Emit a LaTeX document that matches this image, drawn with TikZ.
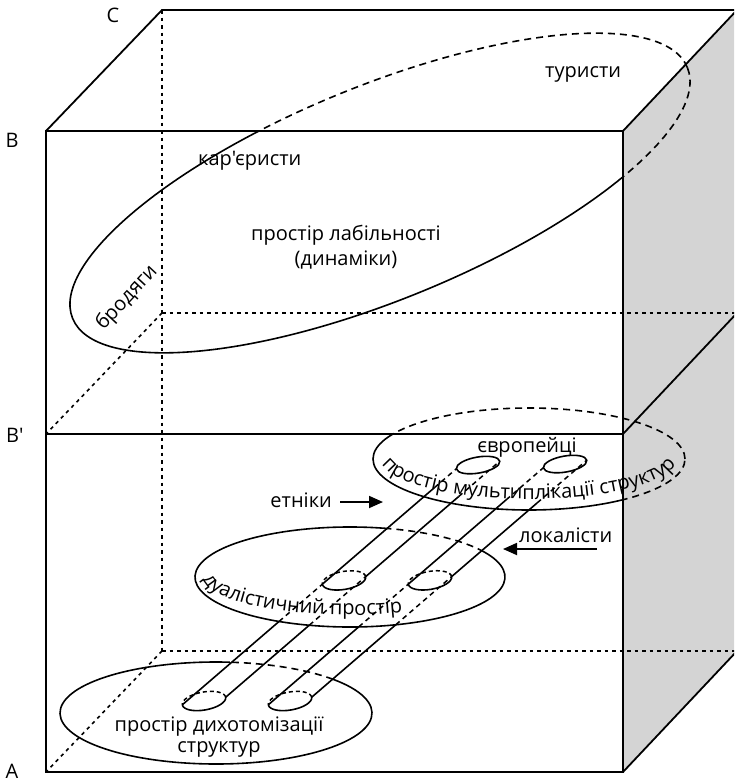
\documentclass[tikz,border=0pt]{standalone}
\usepackage{fontspec}
\setmainfont{Open Sans}[Ligatures=TeXOff]
\usetikzlibrary{calc,arrows.meta,decorations.text}
\definecolor{sideface}{RGB}{212,212,212}
\tikzset{
  edge/.style={line width=1.8pt},
  hiddenedge/.style={line width=1.6pt, dash pattern=on 3.5pt off 4pt},
  solidcurve/.style={line width=1.6pt},
  dashcurve/.style={line width=1.6pt, dash pattern=on 7pt off 5pt},
  tubeline/.style={line width=1.6pt},
  tubehidden/.style={line width=1.5pt, dash pattern=on 5pt off 4pt},
  capdash/.style={line width=1.5pt, dash pattern=on 4pt off 3pt},
  lbl/.style={font=\fontsize{20}{25}\selectfont, inner sep=0pt},
  pointer/.style={line width=1.8pt, -{Triangle[length=14pt,width=12pt]}},
}
% one edge of a tube: #1 lower end, #2 upper end,
% #3 where it passes under the middle disk, #4 middle opening, #5 where it goes under the top disk
\newcommand{\tubeedge}[5]{%
  \draw[tubeline]   (#1) -- ($(#1)!#3!(#2)$);
  \draw[tubehidden] ($(#1)!#3!(#2)$) -- ($(#1)!#4!(#2)$);
  \draw[tubeline]   ($(#1)!#4!(#2)$) -- ($(#1)!#5!(#2)$);
  \draw[tubehidden] ($(#1)!#5!(#2)$) -- (#2);
}
% opening of a tube in a disk: far half hidden, near half visible
\newcommand{\tubeopening}[1]{%
  \draw[capdash, shift={(#1)}, rotate=10] (22,0) arc[start angle=0, end angle=180, x radius=22, y radius=9];
  \draw[solidcurve, shift={(#1)}, rotate=10] (-22,0) arc[start angle=180, end angle=360, x radius=22, y radius=9];
}
\begin{document}
\begin{tikzpicture}[x=1pt,y=1pt]
\useasboundingbox (0,0) rectangle (734,-782);
\clip (0,0) rectangle (734,-782);

% ---- box corners
\coordinate (B)   at (46,-131);
\coordinate (Bp)  at (46,-434);
\coordinate (A)   at (46,-772);
\coordinate (FR)  at (623,-131);
\coordinate (FRm) at (623,-434);
\coordinate (FRb) at (623,-772);
\coordinate (C)   at ($(B)+(116,121)$);
\coordinate (Cm)  at ($(Bp)+(116,121)$);
\coordinate (Cb)  at ($(A)+(116,121)$);
\coordinate (RT)  at ($(FR)+(114,121)$);
\coordinate (RM)  at ($(FRm)+(114,121)$);
\coordinate (RB)  at ($(FRb)+(114,121)$);

% ---- right side face
\fill[sideface] (FR) -- (RT) -- (RB) -- (FRb) -- cycle;

% ---- hidden edges
\draw[hiddenedge] (C) -- (Cb);
\draw[hiddenedge] (Cm) -- (Bp);
\draw[hiddenedge] (Cb) -- (A);
\draw[hiddenedge] (Cm) -- ++(620,0);
\draw[hiddenedge] (Cb) -- ++(620,0);

% ---- visible edges
\draw[edge] (B) rectangle (FRb);
\draw[edge] (Bp) -- (FRm);
\draw[edge] (B) -- (C) -- ++(620,0);
\draw[edge] (FR) -- (RT);
\draw[edge] (FRm) -- (RM);
\draw[edge] (FRb) -- (RB);

% ---- space of lability (large tilted ellipse)
\begin{scope}
  \clip (B) rectangle (FRb);
  \draw[solidcurve, rotate around={22.2:(380,-193)}] (380,-193) ellipse [x radius=332, y radius=107];
\end{scope}
\begin{scope}
  \clip (0,0) -- (734,0) -- (734,-782) -- (623,-782) -- (623,-131) -- (0,-131) -- cycle;
  \draw[dashcurve, rotate around={22.2:(380,-193)}] (380,-193) ellipse [x radius=332, y radius=107];
\end{scope}

% ---- top disk: multiplication of structures
\begin{scope}
  \clip (Bp) rectangle (FRb);
  \draw[solidcurve] (529,-459) ellipse [x radius=156, y radius=51];
\end{scope}
\begin{scope}
  \clip (0,0) -- (734,0) -- (734,-782) -- (623,-782) -- (623,-434) -- (0,-434) -- cycle;
  \draw[dashcurve] (529,-459) ellipse [x radius=156, y radius=51];
\end{scope}

% ---- middle disk: dualistic space
\draw[solidcurve] (350,-577) ++(77:155 and 50) arc[start angle=77, end angle=390.2, x radius=155, y radius=50];
\draw[dashcurve]  (350,-577) ++(30.2:155 and 50) arc[start angle=30.2, end angle=77, x radius=155, y radius=50];

% ---- bottom disk: dichotomisation of structures
\draw[solidcurve] (216,-713) ++(84.9:156 and 51) arc[start angle=84.9, end angle=401.4, x radius=156, y radius=51];
\draw[dashcurve]  (216,-713) ++(41.4:156 and 51) arc[start angle=41.4, end angle=84.9, x radius=156, y radius=51];

% ---- tubes
\coordinate (b1) at (204,-701);
\coordinate (t1) at (478,-465);
\coordinate (b2) at (290,-701);
\coordinate (t2) at (565,-464);
\coordinate (m1) at ($(b1)!0.511!(t1)$);
\coordinate (m2) at ($(b2)!0.509!(t2)$);
\coordinate (l1a) at ($(b1)+(-21.7,-3.8)$);
\coordinate (l1b) at ($(t1)+(-21.7,-3.8)$);
\coordinate (r1a) at ($(b1)+(21.7,3.8)$);
\coordinate (r1b) at ($(t1)+(21.7,3.8)$);
\coordinate (l2a) at ($(b2)+(-21.7,-3.8)$);
\coordinate (l2b) at ($(t2)+(-21.7,-3.8)$);
\coordinate (r2a) at ($(b2)+(21.7,3.8)$);
\coordinate (r2b) at ($(t2)+(21.7,3.8)$);

\tubeedge{l1a}{l1b}{0.353}{0.511}{0.92}
\tubeedge{r1a}{r1b}{0.305}{0.511}{0.85}
\tubeedge{l2a}{l2b}{0.329}{0.509}{0.865}
\tubeedge{r2a}{r2b}{0.306}{0.509}{0.82}

\tubeopening{b1}
\tubeopening{b2}
\tubeopening{m1}
\tubeopening{m2}
\draw[solidcurve, rotate around={10:(t1)}] (t1) ellipse [x radius=22, y radius=8];
\draw[solidcurve, rotate around={10:(t2)}] (t2) ellipse [x radius=22, y radius=8];

% ---- curved disk captions
\path[decorate, decoration={text along path, text align=center,
  text={|\fontsize{20}{24}\selectfont|простір мультиплікації структур}}]
  (529,-459) ++(168:148 and 40) arc[start angle=168, end angle=372, x radius=148, y radius=40];
\path[decorate, decoration={text along path, text align=left,
  text={|\fontsize{20}{24}\selectfont|дуалістичний простір}}]
  (350,-577) ++(183:147 and 38) arc[start angle=183, end angle=355, x radius=147, y radius=38];

% ---- corner letters
\node[lbl, anchor=base] (lC) at (113,-22) {C};
\node[lbl, anchor=base] (lB) at (12,-147) {B};
\node[lbl, anchor=base west] (lBp) at (6,-442) {B'};
\node[lbl, anchor=base] (lA) at (12,-778) {A};

% ---- texts
\node[lbl, anchor=base west] (tur) at (545,-77) {туристи};
\node[lbl, anchor=base west] (kar) at (198,-165) {кар'єристи};
\node[lbl, align=center] (lab) at (346,-247) {простір лабільності\\(динаміки)};
\node[lbl, rotate=47] (brod) at (127,-298) {бродяги};
\node[lbl, anchor=base] (evr) at (527,-452) {європейці};
\node[lbl, anchor=base east] (etn) at (332,-507) {етніки};
\node[lbl, anchor=base west] (lok) at (519,-542) {локалісти};
\node[lbl, align=center, font=\fontsize{20}{21}\selectfont] (dych) at (219,-737) {простір дихотомізації\\структур};

% ---- pointers
\coordinate (etnTail) at (340,-502);
\coordinate (etnTip)  at (383,-502);
\coordinate (lokTail) at (597,-549);
\coordinate (lokTip)  at (503,-549);
\draw[pointer] (etnTail) -- (etnTip);
\draw[pointer] (lokTail) -- (lokTip);
\end{tikzpicture}
\end{document}
